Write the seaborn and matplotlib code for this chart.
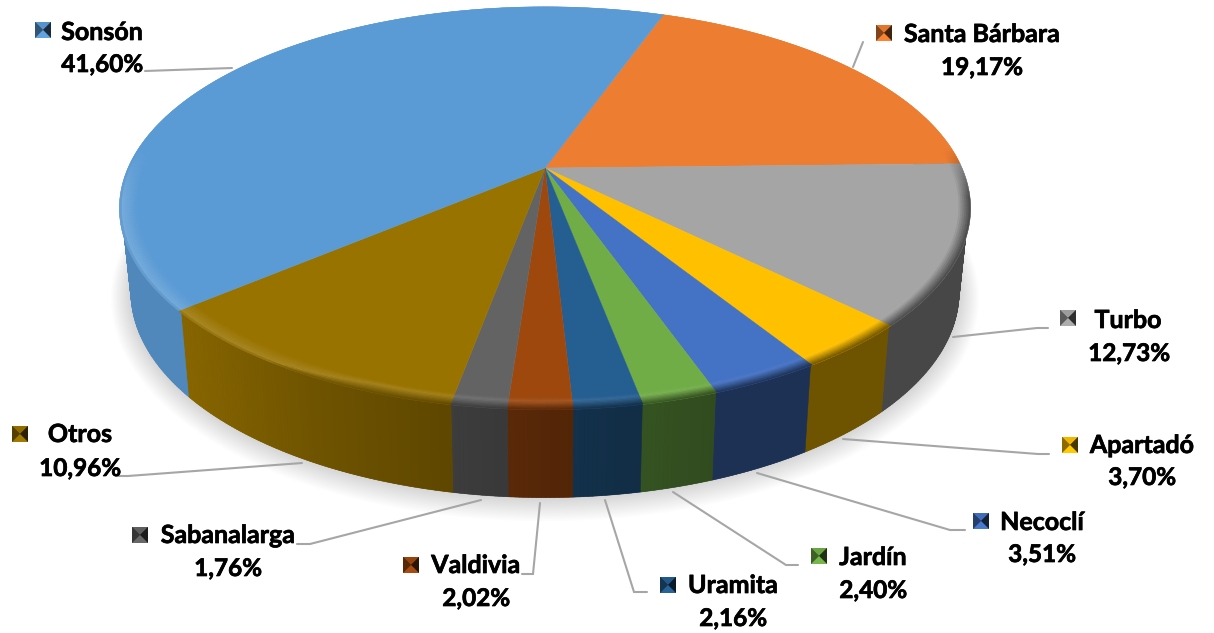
import numpy as np
import matplotlib
matplotlib.use("Agg")
import matplotlib.pyplot as plt
import matplotlib.patheffects as pe
from matplotlib.collections import PolyCollection
import seaborn as sns

# clockwise from Santa Barbara
municipios = ["Santa Bárbara", "Turbo", "Apartadó", "Necoclí", "Jardín",
              "Uramita", "Valdivia", "Sabanalarga", "Otros", "Sonsón"]
shares = [19.17, 12.73, 3.70, 3.51, 2.40, 2.16, 2.02, 1.76, 10.96, 41.60]
hex_colors = ["#ED7D31", "#A5A5A5", "#FFC000", "#4472C4", "#70AD47",
              "#255E91", "#9E480E", "#636363", "#997300", "#5B9BD5"]

sns.set_theme(style="white")
plt.rcParams["font.family"] = ["Lato", "DejaVu Sans"]
palette = sns.color_palette(hex_colors)

# pie geometry in pixels, tilted disc with perspective
cx, cy = 545.0, 168.0
rx, ry, k = 417.0, 193.4, 0.20
start = 19.7
bot_cy, bot_sx, bot_sy = 251.0, 0.973, 1.02


def project(theta, r=1.0):
    u = r * np.sin(np.radians(theta))
    v = r * np.cos(np.radians(theta))
    w = 1 + k * v
    return rx * u / w, -ry * v / w


def top_xy(theta, r=1.0):
    x, y = project(theta, r)
    return cx + x, cy + y


def bottom_xy(theta, grow=0.0):
    x, y = project(theta)
    return cx + bot_sx * x * (1 + grow / 420), bot_cy + bot_sy * y * (1 + grow / 240)


def wall_shade(theta):
    u = np.sin(np.radians(theta))
    return np.interp(u, [-1, -0.75, -0.45, -0.2, 0.05, 0.35, 1],
                     [0.88, 0.88, 0.72, 0.62, 0.52, 0.43, 0.43])


def mix(a, b, t):
    return tuple(np.array(a) * (1 - t) + np.array(b) * t)


fig = plt.figure(figsize=(12.14, 6.33), dpi=100)
ax = fig.add_axes([0, 0, 1, 1])
ax.set_xlim(0, 1214)
ax.set_ylim(633, 0)
ax.axis("off")

# soft shadow under the disc
circle = np.linspace(0, 360, 361)
for grow in np.linspace(20, 1, 14):
    sx, sy = bottom_xy(circle, grow)
    ax.fill(sx, sy + grow * 0.15, color="black", alpha=0.012, lw=0, zorder=1)

edges = start + np.cumsum([0] + shares) / np.sum(shares) * 360

# side wall: one flat polygon per slice, then the shading strips over it
polys, cols = [], []
for i, base in enumerate(palette):
    th = np.arange(edges[i], edges[i + 1] + 0.01, 0.5)
    th = np.append(th, edges[i + 1])
    th = th[np.cos(np.radians(th)) < 0.3]
    if len(th) < 2:
        continue
    x1, y1 = top_xy(th, 0.995)
    x2, y2 = bottom_xy(th[::-1])
    ax.fill(np.r_[x1, x2], np.r_[y1, y2], lw=0, zorder=2,
            color=tuple(np.array(base) * wall_shade(th[len(th) // 2])))
    for a, b in zip(th[:-1], th[1:]):
        x1, y1 = top_xy(np.array([a, b]), 0.995)
        x2, y2 = bottom_xy(np.array([b, a]))
        polys.append(np.column_stack([np.r_[x1, x2], np.r_[y1, y2]]))
        cols.append(tuple(np.array(base) * wall_shade((a + b) / 2)))
ax.add_collection(PolyCollection(polys, facecolors=cols, edgecolors=cols, linewidths=0.4, zorder=2))

# top face
for i, base in enumerate(palette):
    th = np.linspace(edges[i], edges[i + 1], 200)
    x, y = top_xy(th)
    ax.fill(np.r_[cx, x], np.r_[cy, y], color=base, lw=0.3, zorder=3)

# bevel on the rim, stays light up to the edge on the left side
rings = np.linspace(0.96, 1.0, 10)
polys, cols = [], []
for i, base in enumerate(palette):
    th = np.arange(edges[i], edges[i + 1], 0.75)
    th = np.append(th, edges[i + 1])
    for a, b in zip(th[:-1], th[1:]):
        mid = (a + b) / 2
        u, v = np.sin(np.radians(mid)), np.cos(np.radians(mid))
        vis = np.clip((0.1 - v) / 0.25, 0, 1)
        light = mix(base, (1, 1, 1), np.clip(0.09 - 0.09 * u, 0, 0.18))
        dark = tuple(np.array(base) * wall_shade(mid))
        peak = np.interp(u, [-1, -0.55, -0.35], [0.9, 0.9, 0.3])
        for r1, r2 in zip(rings[:-1], rings[1:]):
            t = ((r1 + r2) / 2 - rings[0]) / (rings[-1] - rings[0])
            if t < peak:
                c = mix(base, light, t / peak)
            else:
                c = mix(light, dark, (t - peak) / (1 - peak))
            c = mix(base, c, vis)
            x1, y1 = top_xy(np.array([a, b]), r1)
            x2, y2 = top_xy(np.array([b, a]), r2)
            polys.append(np.column_stack([np.r_[x1, x2], np.r_[y1, y2]]))
            cols.append(c)
ax.add_collection(PolyCollection(polys, facecolors=cols, edgecolors=cols, linewidths=0.3, zorder=4))

# labels: name centre x + baseline, percent centre x + baseline, swatch left/top, leader line
layout = {
    "Sonsón": ((102, 40), (102, 72), (35, 22), [(145, 71), (232, 68)]),
    "Santa Bárbara": ((982, 42), (982, 75), (876, 25), [(863, 42), (853, 67)]),
    "Turbo": ((1128, 328), (1129, 361), (1060, 310), [(1048, 328), (1037, 328), (953, 337)]),
    "Apartadó": ((1142, 453), (1142, 485), (1062, 437), [(1049, 454), (1038, 454), (843, 439)]),
    "Necoclí": ((1042, 530), (1042, 562), (973, 513), [(965, 530), (950, 530), (757, 473)]),
    "Jardín": ((873, 565), (873, 598), (811, 548), [(798, 565), (786, 565), (673, 492)]),
    "Uramita": ((733, 593), (733, 626), (660, 577), [(647, 592), (634, 592), (605, 500)]),
    "Valdivia": ((476, 573), (476, 606), (403, 557), [(522, 574), (533, 574), (540, 503)]),
    "Sabanalarga": ((228, 543), (228, 576), (132, 527), [(297, 544), (310, 544), (481, 500)]),
    "Otros": ((80, 442), (80, 476), (12, 426), [(118, 476), (128, 476), (302, 463)]),
}
thick = [pe.withStroke(linewidth=0.5, foreground="black")]

for name, val, base in zip(municipios, shares, palette):
    name_xy, pct_xy, sw, line = layout[name]
    ax.plot(*zip(*line), color="#A6A6A6", lw=1.5, zorder=5, solid_joinstyle="miter")
    ax.text(*name_xy, name, ha="center", va="baseline", fontsize=18, fontweight="bold",
            color="black", zorder=6, path_effects=thick)
    ax.text(*pct_xy, f"{val:.2f}%".replace(".", ","), ha="center", va="baseline",
            fontsize=17.5, fontweight="bold", color="black", zorder=6, path_effects=thick)
    # little pyramid swatch
    x0, y0, s = sw[0], sw[1], 16
    mid = (x0 + s / 2, y0 + s / 2)
    tl, tr, bl, br = (x0, y0), (x0 + s, y0), (x0, y0 + s), (x0 + s, y0 + s)
    ax.fill(*zip(tl, tr, br, bl), color=tuple(np.array(base) * 0.5), lw=0, zorder=6)
    faces = [([tl, tr, mid], 0.95), ([tl, bl, mid], 0.55), ([tr, br, mid], 0.28), ([bl, br, mid], 1.05)]
    for pts, f in faces:
        ax.fill(*zip(*pts), color=tuple(np.clip(np.array(base) * f, 0, 1)), lw=0, zorder=6)

fig.savefig("out.png", dpi=100)
